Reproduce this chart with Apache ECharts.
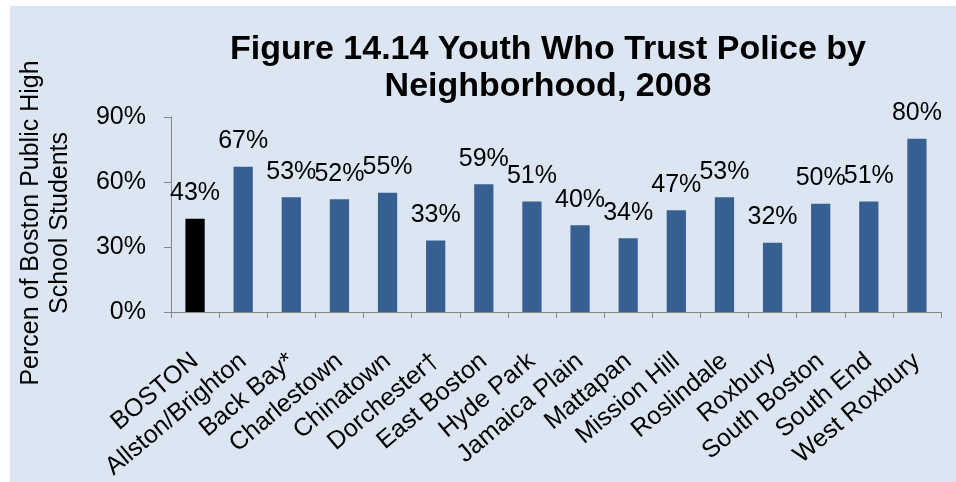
<!DOCTYPE html>
<html>
<head>
<meta charset="utf-8">
<script src="https://cdn.jsdelivr.net/npm/echarts@6/dist/echarts.min.js"></script>
<style>
  html, body { margin: 0; padding: 0; background: #ffffff; }
  #chart { position: absolute; left: 10px; top: 6px; width: 946px; height: 476px; background: #dce6f2; }
</style>
</head>
<body>
<div id="chart"></div>
<script>
const titleText = "Figure 14.14 Youth Who Trust Police by\nNeighborhood, 2008";
const yAxisTitle = "Percen of Boston Public High\nSchool Students";
const categories = ["BOSTON", "Allston/Brighton", "Back Bay*", "Charlestown", "Chinatown", "Dorchester†", "East Boston", "Hyde Park", "Jamaica Plain", "Mattapan", "Mission Hill", "Roslindale", "Roxbury", "South Boston", "South End", "West Roxbury"];
const values = [43, 67, 53, 52, 55, 33, 59, 51, 40, 34, 47, 53, 32, 50, 51, 80];
const highlightCategory = "BOSTON";
const yTicks = [0, 30, 60, 90];

const FONT = "Liberation Sans, Arial, sans-serif";
const chart = echarts.init(document.getElementById('chart'));
chart.setOption({
  backgroundColor: '#dce6f2',
  animation: false,
  title: {
    text: titleText,
    left: 538,
    top: 25,
    padding: 0,
    textAlign: 'center',
    textStyle: { fontFamily: FONT, fontSize: 34, fontWeight: 'bold', color: '#000', lineHeight: 37 }
  },
  graphic: [{
    type: 'text',
    x: 35.5, y: 217,
    rotation: Math.PI / 2,
    style: {
      text: yAxisTitle,
      font: '25px ' + FONT,
      fill: '#000',
      textAlign: 'center',
      textVerticalAlign: 'middle',
      lineHeight: 29
    }
  }],
  grid: { left: 161, right: 15, top: 111, bottom: 169 },
  xAxis: {
    type: 'category',
    data: categories,
    axisLine: { lineStyle: { color: '#868686' } },
    axisTick: { show: true, length: 6, lineStyle: { color: '#868686' } },
    axisLabel: { rotate: 40, margin: 46, interval: 0, fontFamily: FONT, fontSize: 25, color: '#000' }
  },
  yAxis: {
    type: 'value',
    min: yTicks[0], max: yTicks[yTicks.length - 1], interval: 30,
    splitLine: { show: false },
    axisLine: { show: true, lineStyle: { color: '#868686' } },
    axisTick: { show: true, length: 7, lineStyle: { color: '#868686' } },
    axisLabel: { margin: 25, fontFamily: FONT, fontSize: 25, color: '#000', formatter: '{value}%' }
  },
  series: [{
    type: 'bar',
    barWidth: '40%',
    data: values.map((v, i) => ({
      value: v,
      itemStyle: { color: categories[i] === highlightCategory ? '#000000' : '#376092' }
    })),
    label: {
      show: true, position: 'top', distance: 13,
      fontFamily: FONT, fontSize: 25, color: '#000',
      formatter: '{c}%'
    },
    labelLayout: { hideOverlap: false }
  }]
});
</script>
</body>
</html>
